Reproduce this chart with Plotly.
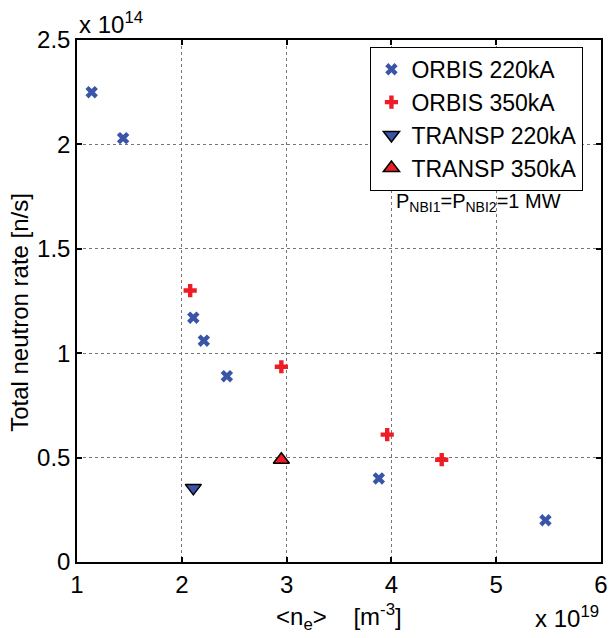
import plotly.graph_objects as go

# Data (x in units of 1e19 m^-3, y in units of 1e14 n/s)
orbis220_x = [1.14, 1.44, 2.11, 2.21, 2.43, 3.88, 5.47]
orbis220_y = [2.25, 2.03, 1.17, 1.06, 0.89, 0.40, 0.20]
orbis350_x = [2.08, 2.95, 3.96, 4.48]
orbis350_y = [1.30, 0.935, 0.61, 0.49]
transp220_x = [2.11]
transp220_y = [0.355]
transp350_x = [2.95]
transp350_y = [0.49]

x_ticks = [1, 2, 3, 4, 5, 6]
y_ticks = [0, 0.5, 1, 1.5, 2, 2.5]
y_ticklabels = ["0", "0.5", "1", "1.5", "2", "2.5"]

FONT = "Liberation Sans, Arial, Helvetica, sans-serif"
BLUE = "#3a55a8"
RED = "#ee1c25"

fig = go.Figure()
fig.add_trace(go.Scatter(x=orbis220_x, y=orbis220_y, mode="markers", name="ORBIS 220kA",
                         marker=dict(symbol="x", size=11, color=BLUE, line=dict(width=0))))
fig.add_trace(go.Scatter(x=orbis350_x, y=orbis350_y, mode="markers", name="ORBIS 350kA",
                         marker=dict(symbol="cross", size=11, color=RED, line=dict(width=0))))
fig.add_trace(go.Scatter(x=transp220_x, y=transp220_y, mode="markers", name="TRANSP 220kA",
                         marker=dict(symbol="triangle-down", size=14, color=BLUE,
                                     line=dict(width=1.5, color="black"))))
fig.add_trace(go.Scatter(x=transp350_x, y=transp350_y, mode="markers", name="TRANSP 350kA",
                         marker=dict(symbol="triangle-up", size=14, color=RED,
                                     line=dict(width=1.5, color="black"))))

axis_common = dict(
    showline=True, linecolor="black", linewidth=1.5, mirror="allticks",
    ticks="inside", ticklen=5, tickwidth=1.5, tickcolor="black",
    showgrid=True, gridcolor="#777777", gridwidth=1, griddash="dot",
    zeroline=False, tickfont=dict(size=24, color="black", family=FONT),
    automargin=False,
)

fig.update_layout(
    width=610, height=638,
    margin=dict(l=77, r=9, t=40, b=76),
    paper_bgcolor="white", plot_bgcolor="white",
    font=dict(family=FONT, color="black"),
    showlegend=True,
    legend=dict(x=0.56, y=0.987, xanchor="left", yanchor="top",
                bgcolor="white", bordercolor="black", borderwidth=1,
                font=dict(size=23, color="black", family=FONT),
                tracegroupgap=0, itemsizing="trace"),
    xaxis=dict(range=[1, 6], tickvals=x_ticks, ticktext=[str(v) for v in x_ticks],
               **axis_common),
    yaxis=dict(range=[0, 2.5], tickvals=y_ticks, ticktext=y_ticklabels,
               **axis_common),
)

fig.add_annotation(xref="paper", yref="paper", x=-0.109, y=0.479, xanchor="center", yanchor="middle",
                   text="Total neutron rate [n/s]", textangle=-90, showarrow=False,
                   font=dict(size=24, color="black", family=FONT))
fig.add_annotation(xref="paper", yref="paper", x=0.5, y=-0.105, xanchor="center", yanchor="middle",
                   text="&lt;n<sub>e</sub>&gt;    [m<sup>-3</sup>]", showarrow=False,
                   font=dict(size=24, color="black", family=FONT))
fig.add_annotation(xref="paper", yref="paper", x=1.0, y=-0.105, xanchor="right", yanchor="middle",
                   text="x 10<sup>19</sup>", showarrow=False,
                   font=dict(size=24, color="black", family=FONT))
fig.add_annotation(xref="paper", yref="paper", x=0.0, y=1.0, xanchor="left", yanchor="bottom",
                   text="x 10<sup>14</sup>", showarrow=False,
                   font=dict(size=24, color="black", family=FONT))
fig.add_annotation(xref="paper", yref="paper", x=0.605, y=0.688, xanchor="left", yanchor="middle",
                   text="P<sub>NBI1</sub>=P<sub>NBI2</sub>=1 MW", showarrow=False,
                   font=dict(size=20, color="black", family=FONT))

fig.write_html("out.html", config={"displayModeBar": False},
               post_script="document.body.style.margin='0';document.body.style.overflow='hidden';")
